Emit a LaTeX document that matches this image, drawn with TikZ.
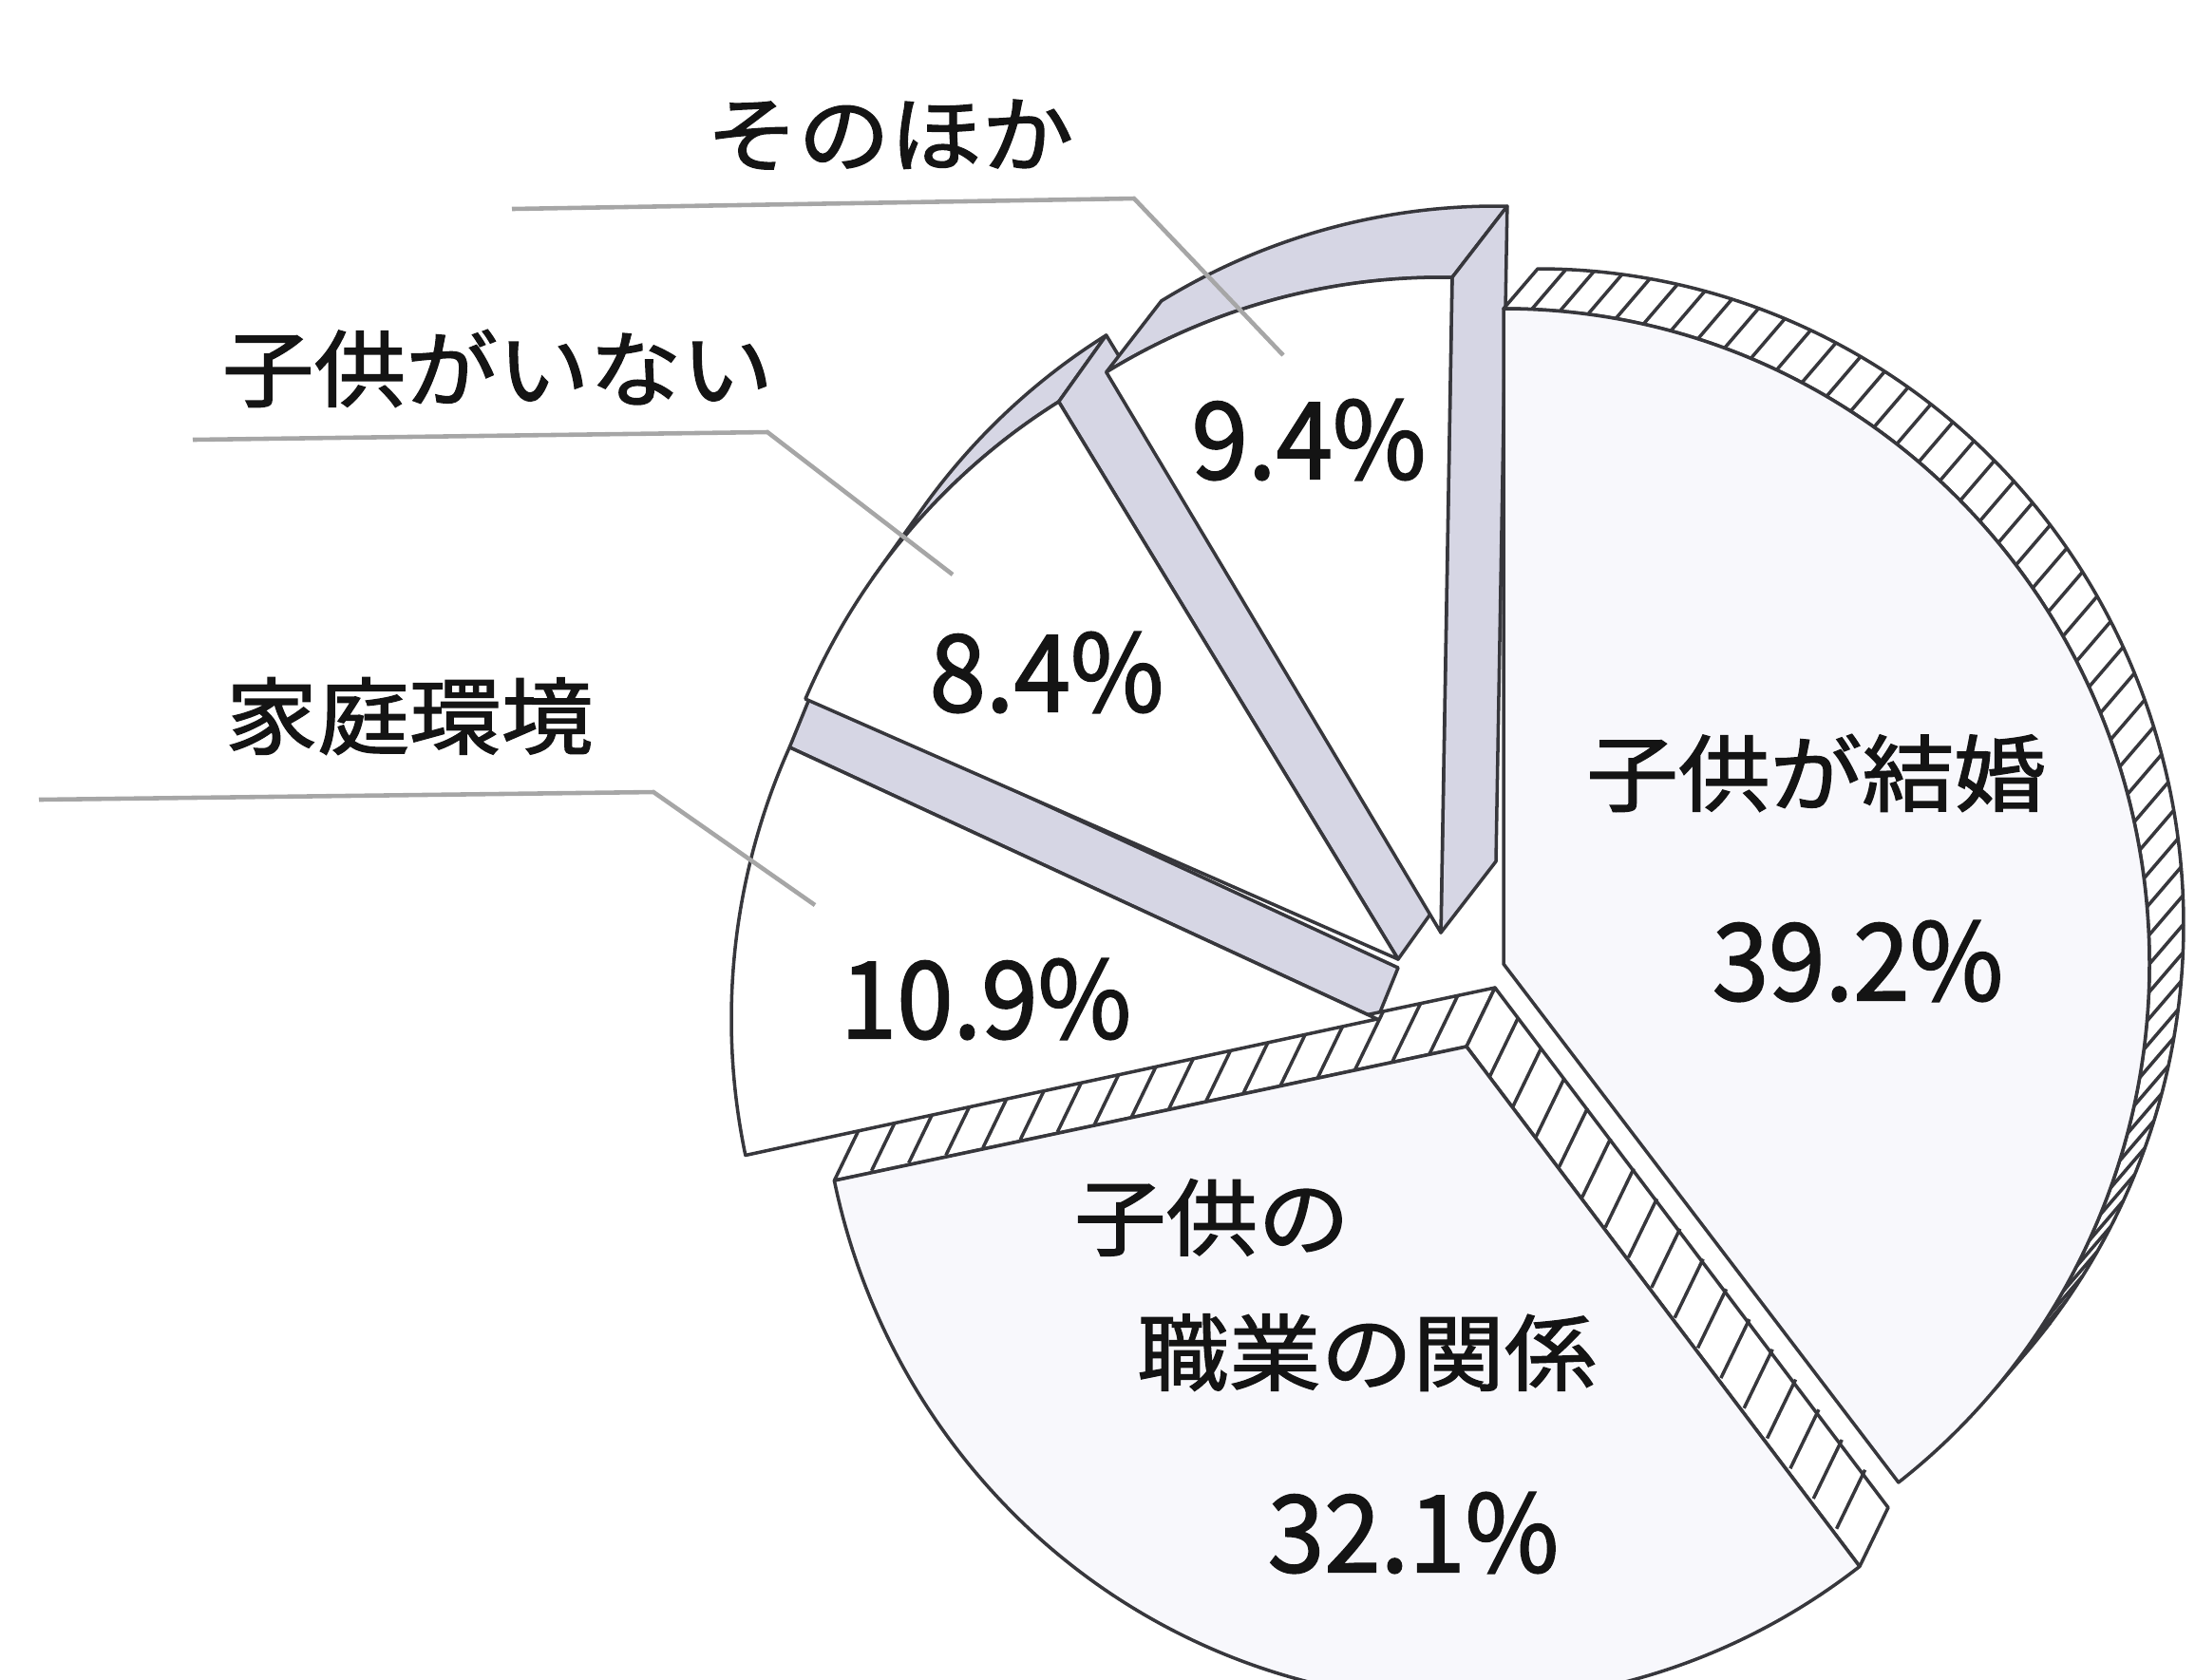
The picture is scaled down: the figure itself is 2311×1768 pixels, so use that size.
\documentclass[tikz,border=0pt]{standalone}
\usepackage{fontspec}
\setmainfont{Noto Sans CJK JP}[FakeBold=1.6,AutoFakeBold=1.6]
\newfontfamily\jpwide[FakeStretch=1.1,FakeBold=1.6]{Noto Sans CJK JP}
\newfontfamily\jpnum[FakeStretch=0.95,FakeBold=1.6]{Noto Sans CJK JP}

\definecolor{wallgrey}{RGB}{214,214,228}
\definecolor{palelilac}{RGB}{248,248,252}
\definecolor{inkgrey}{RGB}{55,55,60}

\begin{document}
\begin{tikzpicture}[x=0.01cm,y=0.01cm]

\tikzstyle{face}=[draw={inkgrey},line width={1pt},line join={round}]
\tikzstyle{paleface}=[face,fill={palelilac}]
\tikzstyle{whiteface}=[face,fill={white}]
\tikzstyle{greywall}=[face,fill={wallgrey}]
\tikzstyle{hatchwall}=[face,fill={white}]
\tikzstyle{hatch}=[draw={inkgrey},line width={1pt}]
\tikzstyle{leader}=[draw={black!35},line width={1.3pt}]
\tikzstyle{label}=[inner sep={0pt},text={black!92},font={\jpwide\fontsize{25pt}{30pt}\selectfont}]
\tikzstyle{value}=[inner sep={0pt},text={black!92},font={\jpnum\fontsize{32pt}{36pt}\selectfont}]

\useasboundingbox (0,0) rectangle (2311,-1768);
\clip (0,0) rectangle (2311,-1768);

% slices: apexes

\coordinate (PA) at (1583,-1015);
\coordinate (PB) at (1544,-1102);
\coordinate (PC) at (1450,-1073);
\coordinate (PD) at (1472,-1010);
\coordinate (PE) at (1517,-982);

% slices: grey walls

\draw [greywall] (PC) -- ++(155.5:680 and 690) -- ++(22,54) -- ++(-24.5:680 and 690) -- cycle ;
\draw [greywall,shift={(PD)}] (144.5:680 and 690) arc [start angle=144.5,end angle=121.7,x radius=680,y radius=690] -- ++(50,70) arc [start angle=121.7,end angle=144.5,x radius=680,y radius=690] -- cycle ;
\draw [greywall] (PD) -- ++(121.7:680 and 690) -- ++(50,70) -- ++(-58.3:680 and 690) -- cycle ;
\draw [greywall,shift={(PE)}] (121.2:680 and 690) arc [start angle=121.2,end angle=89,x radius=680,y radius=690] -- ++(58,75) arc [start angle=89,end angle=121.2,x radius=680,y radius=690] -- cycle ;
\draw [greywall] (PE) -- ++(89:680 and 690) -- ++(58,75) -- ++(-91:680 and 690) -- cycle ;

% slices: hatched walls

\draw [hatchwall,shift={(PA)}] (90:680 and 690) arc [start angle=90,end angle=-40.6,x radius=680,y radius=690] -- ++(36,42) arc [start angle=-40.6,end angle=90,x radius=680,y radius=690] -- cycle ;
\foreach \a in {87.5,85,...,-39} \draw [hatch,shift={(PA)}] (\a:680 and 690) -- ++(36,42) ;

\draw [hatchwall] (PB) -- ++(-168.2:680 and 690) -- ++(30,62) -- ++(11.8:680 and 690) -- cycle ;
\draw [hatchwall] (PB) -- ++(-52.5:680 and 690) -- ++(30,62) -- ++(127.5:680 and 690) -- cycle ;
\foreach \r in {40,80,...,660} {
  \draw [hatch,shift={(PB)}] (-168.2:\r) -- ++(30,62) ;
  \draw [hatch,shift={(PB)}] (-52.5:\r) -- ++(30,62) ;
}

% slices: faces

\draw [paleface,shift={(PA)}] (0,0) -- (90:680 and 690) arc [start angle=90,end angle=-52.3,x radius=680,y radius=690] -- cycle ;
\draw [paleface,shift={(PB)}] (0,0) -- (-52.5:680 and 690) arc [start angle=-52.5,end angle=-168.2,x radius=680,y radius=690] -- cycle ;
\draw [whiteface,shift={(PC)}] (0,0) -- (-168:680 and 690) arc [start angle=-168,end angle=-204.5,x radius=680,y radius=690] -- cycle ;
\draw [whiteface,shift={(PD)}] (0,0) -- (156.6:680 and 690) arc [start angle=156.6,end angle=121.7,x radius=680,y radius=690] -- cycle ;
\draw [whiteface,shift={(PE)}] (0,0) -- (121.2:680 and 690) arc [start angle=121.2,end angle=89,x radius=680,y radius=690] -- cycle ;

% labels: texts

\node [label] (SH) at (937,-142)  {そのほか} ;
\node [label] (KI) at (524,-388)  {子供がいない} ;
\node [label] (KK) at (431,-754)  {家庭環境} ;
\node [label] (KM) at (1912,-814) {子供が結婚} ;
\node [label] (KN) at (1276,-1282) {子供の} ;
\node [label] (SG) at (1439,-1424) {職業の関係} ;

\node [value] (VE) at (1378,-463)  {9.4\%} ;
\node [value] (VD) at (1102,-708)  {8.4\%} ;
\node [value] (VC) at (1038,-1052) {10.9\%} ;
\node [value] (VA) at (1956,-1012) {39.2\%} ;
\node [value] (VB) at (1488,-1614) {32.1\%} ;

% labels: leaders

\coordinate (SH0) at (539,-220) ;
\coordinate (SH1) at (1194,-209) ;
\coordinate (SH2) at (1351,-374) ;
\coordinate (KI0) at (203,-463) ;
\coordinate (KI1) at (808,-455) ;
\coordinate (KI2) at (1003,-605) ;
\coordinate (KK0) at (41,-842) ;
\coordinate (KK1) at (688,-834) ;
\coordinate (KK2) at (858,-953) ;

\draw [leader] (SH0) -- (SH1) -- (SH2) ;
\draw [leader] (KI0) -- (KI1) -- (KI2) ;
\draw [leader] (KK0) -- (KK1) -- (KK2) ;

\end{tikzpicture}
\end{document}
